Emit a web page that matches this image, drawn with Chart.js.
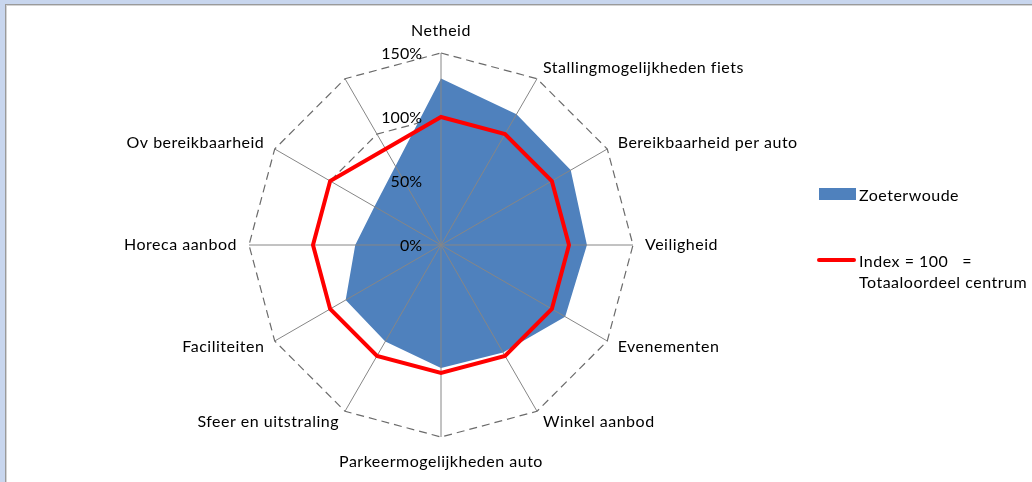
<!DOCTYPE html>
<html>
<head>
<meta charset="utf-8">
<title>Zoeterwoude</title>
<script src="https://cdn.jsdelivr.net/npm/chart.js@4.4.1/dist/chart.umd.min.js"></script>
<style>
  html, body { margin: 0; padding: 0; }
  body { width: 1032px; height: 482px; background: #c8d6ee; position: relative; overflow: hidden; font-family: Lato, sans-serif; }
  #panel { position: absolute; left: 5px; top: 4px; right: 0; bottom: 0; background: #fff; border-left: 1px solid #9a9a9a; border-top: 1px solid #9a9a9a; box-shadow: inset 1px 1px 0 #d4d4d4; }
  #wrap { position: absolute; left: 0; top: 0; width: 1032px; height: 482px; }
  .legend-text { position: absolute; font-size: 16px; line-height: 21px; letter-spacing: 0.5px; color: #000; white-space: pre; }
  .swatch { position: absolute; left: 819px; top: 188px; width: 37px; height: 12px; background: #4f81bd; }
  .redline { position: absolute; left: 817px; top: 258px; width: 39px; height: 4px; border-radius: 2px; background: #ff0000; }
</style>
</head>
<body>
<div id="panel"></div>
<div id="wrap"><canvas id="radarChart"></canvas></div>
<div class="swatch"></div>
<div class="legend-text" style="left: 859px; top: 184px;">Zoeterwoude</div>
<div class="redline"></div>
<div class="legend-text" style="left: 859px; top: 250px;">Index = 100   =
Totaaloordeel centrum</div>
<script>
// Chart data
var categories = ['Netheid', 'Stallingmogelijkheden fiets', 'Bereikbaarheid per auto', 'Veiligheid',
    'Evenementen', 'Winkel aanbod', 'Parkeermogelijkheden auto', 'Sfeer en uitstraling',
    'Faciliteiten', 'Horeca aanbod', 'Ov bereikbaarheid', ''];
var zoeterwoude = [130, 118, 117, 114, 112, 97, 96, 87, 86, 67, 60, null];
var indexCentrum = [100, 100, 100, 100, 100, 100, 100, 100, 100, 100, 100, null];
var tickValues = [0, 50, 100, 150];

// Spokes over the blue area, labels on top of everything
var overlayPlugin = {
    id: 'overlay',
    afterDatasetDraw: function(chart, args) {
        if (args.index !== 0) return;
        var scale = chart.scales.r;
        var ctx = chart.ctx;
        var r = scale.getDistanceFromCenterForValue(scale.max);
        ctx.save();
        ctx.strokeStyle = '#868686';
        ctx.lineWidth = 1;
        for (var i = 0; i < categories.length; i++) {
            var p = scale.getPointPosition(i, r);
            ctx.beginPath();
            ctx.moveTo(scale.xCenter, scale.yCenter);
            ctx.lineTo(p.x, p.y);
            ctx.stroke();
        }
        ctx.restore();
    },
    afterDraw: function(chart) {
        var scale = chart.scales.r;
        var ctx = chart.ctx;
        ctx.save();
        ctx.font = '16px Lato';
        ctx.fillStyle = '#000';
        ctx.textBaseline = 'middle';

        // tick labels, left of the top spoke
        ctx.textAlign = 'right';
        tickValues.forEach(function(v) {
            var y = scale.yCenter - scale.getDistanceFromCenterForValue(v) + 1;
            ctx.fillText(v + '%', scale.xCenter - 19, y);
        });

        // category labels
        ctx.letterSpacing = '0.5px';
        var r = scale.getDistanceFromCenterForValue(scale.max) + 12;
        categories.forEach(function(label, i) {
            var p = scale.getPointPosition(i, r);
            var dx = p.x - scale.xCenter;
            var dy = p.y - scale.yCenter;
            var y = p.y;
            if (Math.abs(dx) < 1) {
                ctx.textAlign = 'center';
                y += dy < 0 ? -10 : 13;
            } else {
                ctx.textAlign = dx > 0 ? 'left' : 'right';
            }
            ctx.fillText(label, p.x, y);
        });
        ctx.restore();
    }
};

var ctx = document.getElementById('radarChart').getContext('2d');
var chart = new Chart(ctx, {
    type: 'radar',
    data: {
        labels: categories,
        datasets: [
            {
                label: 'Zoeterwoude',
                data: zoeterwoude,
                backgroundColor: '#4f81bd',
                borderWidth: 0,
                fill: 'origin',
                pointRadius: 0,
                spanGaps: true,
                order: 2
            },
            {
                label: 'Index = 100 = Totaaloordeel centrum',
                data: indexCentrum,
                borderColor: '#ff0000',
                borderWidth: 4,
                fill: false,
                pointRadius: 0,
                spanGaps: true,
                order: 1
            }
        ]
    },
    options: {
        responsive: true,
        maintainAspectRatio: false,
        animation: false,
        layout: {
            padding: { top: 53, bottom: 45, left: 0, right: 150 }
        },
        elements: {
            line: { tension: 0 }
        },
        plugins: {
            legend: { display: false },
            tooltip: { enabled: false }
        },
        scales: {
            r: {
                min: 0,
                max: 150,
                ticks: { display: false, stepSize: 50 },
                pointLabels: { display: false },
                angleLines: { display: false },
                grid: { circular: false, color: '#6b6b6b', lineWidth: 1.2 },
                border: { dash: [8, 5] }
            }
        }
    },
    plugins: [overlayPlugin]
});
</script>
</body>
</html>
